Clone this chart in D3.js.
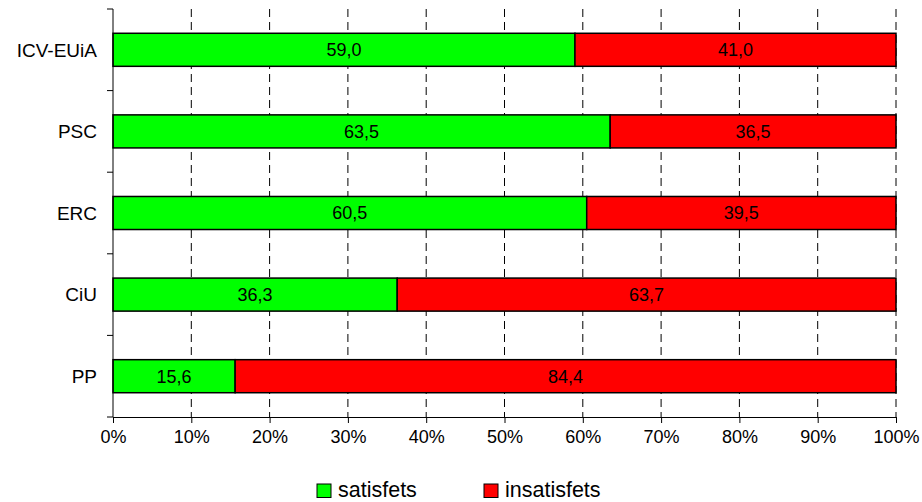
<!DOCTYPE html>
<html><head><meta charset="utf-8">
<script src="https://cdn.jsdelivr.net/npm/d3@7"></script>
<style>body{margin:0;background:#fff;font-family:"Liberation Sans",Arial,sans-serif;}</style>
</head><body><svg id="c" width="922" height="502"></svg>
<script>
const categories = ["ICV-EUiA","PSC","ERC","CiU","PP"];
const satisfets = [59.0,63.5,60.5,36.3,15.6];
const insatisfets = [41.0,36.5,39.5,63.7,84.4];
const seriesNames = ["satisfets","insatisfets"];
const seriesColors = ["#00ff00","#ff0000"];
const xTicks = [0,10,20,30,40,50,60,70,80,90,100];

(function(){
const svg = d3.select("#c");
const pL = 113, pR = 896, pT = 9, pB = 417;
const x = d3.scaleLinear().domain([0,100]).range([pL,pR]);
const y = d3.scaleBand().domain(categories).range([pT,pB]).paddingInner(0).paddingOuter(0);
const fmt = v => v.toFixed(1).replace(".", ",");

// gridlines
svg.append("g").selectAll("line").data(xTicks.slice(1)).join("line")
  .attr("x1", d=>x(d)).attr("x2", d=>x(d)).attr("y1", pT).attr("y2", pB)
  .attr("stroke", "#000").attr("stroke-width", 1).attr("stroke-dasharray", "8,5");

// bars
const barH = y.bandwidth()*0.405;
const rows = categories.map((c,i)=>({c, vals:[satisfets[i], insatisfets[i]]}));
rows.forEach(r=>{
  let acc = 0;
  r.vals.forEach((v,j)=>{
    const x0 = x(acc), x1 = x(acc+v);
    const yc = y(r.c) + y.bandwidth()/2;
    svg.append("rect").attr("x", x0).attr("y", yc-barH/2).attr("width", x1-x0).attr("height", barH)
      .attr("fill", seriesColors[j]).attr("stroke", "#000").attr("stroke-width", 1.5);
    svg.append("text").attr("x", (x0+x1)/2).attr("y", yc).attr("dy","0.36em")
      .attr("text-anchor","middle").attr("font-size", 18).attr("fill","#000").text(fmt(v));
    acc += v;
  });
});

// x axis
const xa = svg.append("g").attr("transform", `translate(0,${pB})`)
  .call(d3.axisBottom(x).tickValues(xTicks).tickFormat(d=>d+"%").tickSize(6).tickPadding(7).tickSizeOuter(0));
xa.select(".domain").attr("stroke","#000");
xa.selectAll(".tick line").attr("stroke","#000");
xa.selectAll("text").attr("font-size",18).attr("font-family","Liberation Sans, Arial, sans-serif").attr("fill","#000");

// y axis line and ticks at band boundaries
svg.append("line").attr("x1",pL).attr("x2",pL).attr("y1",pT).attr("y2",pB).attr("stroke","#000");
const bounds = categories.map(c=>y(c)).concat([pB]);
svg.append("g").selectAll("line").data(bounds).join("line")
  .attr("x1",pL-6).attr("x2",pL).attr("y1",d=>d).attr("y2",d=>d).attr("stroke","#000");
svg.append("g").selectAll("text").data(categories).join("text")
  .attr("x", 97).attr("y", d=>y(d)+y.bandwidth()/2).attr("dy","0.36em")
  .attr("text-anchor","end").attr("font-size",19).attr("fill","#000").text(d=>d);

// legend
const legX = [317, 484];
seriesNames.forEach((n,i)=>{
  svg.append("rect").attr("x", legX[i]).attr("y", 484).attr("width", 14).attr("height", 13.5)
    .attr("fill", seriesColors[i]).attr("stroke","#000").attr("stroke-width",1);
  svg.append("text").attr("x", legX[i]+21).attr("y", 496.5)
    .attr("font-size", 21.5).attr("fill","#000").text(n);
});
})();
</script></body></html>
